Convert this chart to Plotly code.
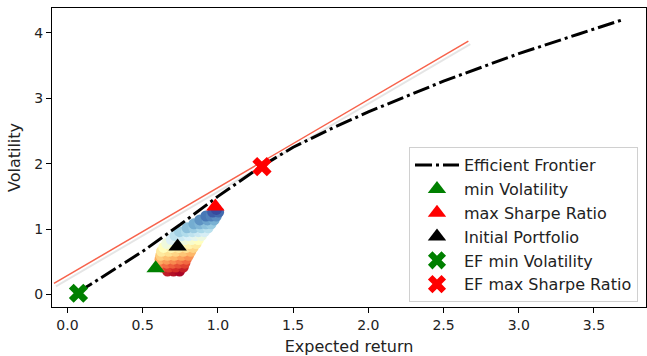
import plotly.graph_objects as go

# ---------------- data ----------------
# Efficient frontier (x = expected return, y = volatility)
ef_ret = [0.07, 0.10, 0.15, 0.30, 0.50, 0.75, 1.00, 1.29, 1.50, 1.75, 2.00, 2.50, 3.00, 3.40, 3.68]
ef_vol = [0.02, 0.08, 0.15, 0.37, 0.66, 1.07, 1.50, 1.96, 2.25, 2.53, 2.79, 3.26, 3.68, 3.98, 4.19]

# Capital market line (tangent)
cml_ret = [-0.09, 2.665]
cml_vol = [0.17, 3.87]

# Simulated portfolios (cloud) and their colour value
cloud_ret = [
    0.665, 0.705, 0.745,
    0.630, 0.675, 0.720, 0.770,
    0.615, 0.660, 0.700, 0.740, 0.780,
    0.615, 0.660, 0.705, 0.750, 0.790,
    0.620, 0.665, 0.710, 0.760, 0.805,
    0.625, 0.675, 0.720, 0.770, 0.820,
    0.640, 0.690, 0.740, 0.790, 0.835,
    0.660, 0.710, 0.760, 0.810, 0.855,
    0.690, 0.735, 0.780, 0.825, 0.870,
    0.715, 0.760, 0.805, 0.850, 0.890,
    0.745, 0.790, 0.830, 0.870, 0.910,
    0.795, 0.840, 0.890, 0.935,
    0.840, 0.880, 0.920, 0.955,
    0.880, 0.930, 0.975,
    0.920, 0.955, 0.990,
    0.965, 1.005,
    0.990,
]
cloud_vol = [
    0.36, 0.36, 0.36,
    0.42, 0.42, 0.42, 0.42,
    0.48, 0.48, 0.48, 0.48, 0.48,
    0.54, 0.54, 0.54, 0.54, 0.54,
    0.60, 0.60, 0.60, 0.60, 0.60,
    0.66, 0.66, 0.66, 0.66, 0.66,
    0.72, 0.72, 0.72, 0.72, 0.72,
    0.78, 0.78, 0.78, 0.78, 0.78,
    0.84, 0.84, 0.84, 0.84, 0.84,
    0.90, 0.90, 0.90, 0.90, 0.90,
    0.96, 0.96, 0.96, 0.96, 0.96,
    1.02, 1.02, 1.02, 1.02,
    1.08, 1.08, 1.08, 1.08,
    1.14, 1.14, 1.14,
    1.20, 1.20, 1.20,
    1.26, 1.26,
    1.30,
]
cloud_val = [
    0.028, 0.008, -0.012,
    0.105, 0.083, 0.060, 0.035,
    0.173, 0.150, 0.130, 0.110, 0.090,
    0.233, 0.210, 0.188, 0.165, 0.145,
    0.290, 0.268, 0.245, 0.220, 0.198,
    0.348, 0.323, 0.300, 0.275, 0.250,
    0.400, 0.375, 0.350, 0.325, 0.303,
    0.450, 0.425, 0.400, 0.375, 0.353,
    0.495, 0.473, 0.450, 0.428, 0.405,
    0.543, 0.520, 0.498, 0.475, 0.455,
    0.588, 0.565, 0.545, 0.525, 0.505,
    0.623, 0.600, 0.575, 0.553,
    0.660, 0.640, 0.620, 0.603,
    0.700, 0.675, 0.653,
    0.740, 0.723, 0.705,
    0.778, 0.758,
    0.805,
]

# Highlighted portfolios
pt_names = ["min Volatility", "max Sharpe Ratio", "Initial Portfolio", "EF min Volatility", "EF max Sharpe Ratio"]
pt_ret = [0.586, 0.983, 0.732, 0.073, 1.293]
pt_vol = [0.40, 1.344, 0.733, 0.02, 1.955]
pt_color = ["green", "red", "black", "green", "red"]
pt_symbol = ["triangle-up", "triangle-up", "triangle-up", "x", "x"]

x_ticks = [0.0, 0.5, 1.0, 1.5, 2.0, 2.5, 3.0, 3.5]
y_ticks = [0, 1, 2, 3, 4]

FONT = "DejaVu Sans"

fig = go.Figure()

# shadow of the tangent line
fig.add_trace(go.Scatter(
    x=[v + 0.013 for v in cml_ret], y=[v - 0.045 for v in cml_vol],
    mode="lines", line=dict(color="rgba(0,0,0,0.10)", width=2),
    showlegend=False, hoverinfo="skip"))
fig.add_trace(go.Scatter(
    x=cml_ret, y=cml_vol, mode="lines",
    line=dict(color="#f7624b", width=1.5), showlegend=False))

fig.add_trace(go.Scatter(
    x=cloud_ret, y=cloud_vol, mode="markers",
    marker=dict(size=11, color=cloud_val, colorscale="RdYlBu", cmin=-0.02, cmax=0.83,
                line=dict(width=0)),
    showlegend=False))

fig.add_trace(go.Scatter(
    x=ef_ret, y=ef_vol, mode="lines", name="Efficient Frontier",
    line=dict(color="black", width=3, dash="17px,4px,3px,4px"),
    legendgroup="g0"))

for i in range(len(pt_names)):
    is_x = pt_symbol[i] == "x"
    fig.add_trace(go.Scatter(
        x=[pt_ret[i]], y=[pt_vol[i]], mode="markers", name=pt_names[i],
        marker=dict(symbol=pt_symbol[i], color=pt_color[i],
                    size=17 if is_x else 16, line=dict(width=0)),
        legendgroup="g%d" % (i + 1)))

axis_common = dict(
    showline=True, mirror=True, linecolor="black", linewidth=1,
    ticks="outside", ticklen=5, tickwidth=1, tickcolor="black",
    showgrid=False, zeroline=False, automargin=False,
    tickfont=dict(family=FONT, size=14, color="#222"),
)

fig.update_layout(
    width=647, height=356,
    margin=dict(l=52, r=1, t=8, b=49),
    paper_bgcolor="white", plot_bgcolor="white",
    font=dict(family=FONT, size=14, color="#222"),
    xaxis=dict(range=[-0.103, 3.846], tickvals=x_ticks,
               ticktext=["%.1f" % v for v in x_ticks],
               title=dict(text="Expected return", font=dict(size=16), standoff=9),
               **axis_common),
    yaxis=dict(range=[-0.19, 4.377], tickvals=y_ticks,
               ticktext=[str(v) for v in y_ticks],
               title=dict(text="Volatility", font=dict(size=16), standoff=9),
               **axis_common),
    legend=dict(x=0.9865, y=0.016, xanchor="right", yanchor="bottom",
                bgcolor="white", bordercolor="#d0d0d0", borderwidth=1,
                font=dict(family=FONT, size=16, color="#222"),
                itemwidth=44,
                traceorder="grouped", tracegroupgap=0),
)

fig.write_html("out.html", config={"displayModeBar": False},
               post_script="document.body.style.margin='0';document.body.style.overflow='hidden';")
